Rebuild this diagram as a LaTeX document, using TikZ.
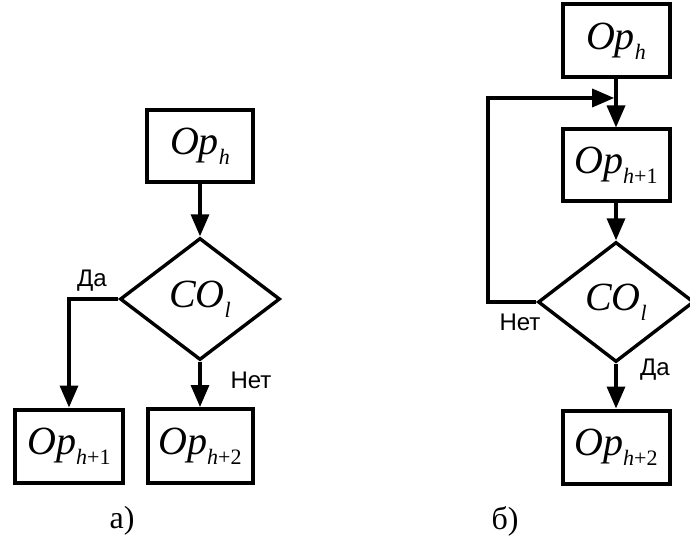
\documentclass[tikz,border=0pt]{standalone}
\usepackage{fontspec}
\setmainfont{Liberation Serif}
\newfontfamily\lsans{Liberation Sans}
\usetikzlibrary{arrows.meta,shapes.geometric}
\newcommand\opsub[1]{\raisebox{-10pt}{\fontsize{22}{22}\selectfont #1}}
\begin{document}
\begin{tikzpicture}[x=1pt,y=-1pt,
  opbox/.style={draw, line width=4pt, minimum width=106pt, minimum height=72pt,
    inner sep=0pt, font=\fontsize{40}{40}\selectfont\itshape},
  cond/.style={draw, diamond, line width=3.4pt, minimum width=160pt, minimum height=122pt,
    inner sep=0pt, aspect=1.3, font=\fontsize{40}{40}\selectfont\itshape},
  flow/.style={line width=3.4pt, -{Triangle[length=22pt,width=18pt]}},
  lbl/.style={font=\lsans\fontsize{24}{24}\selectfont, inner sep=0pt},
  figlabel/.style={font=\fontsize{32}{32}\selectfont, inner sep=0pt}]
\useasboundingbox (0,0) rectangle (690,548);
\clip (0,0) rectangle (690,548);
\fill[white] (0,0) rectangle (690,548);
% ---- a)
\node[opbox] (ah) at (200,146) {Op\opsub{h}};
\node[cond] (ac) at (200,299) {CO\opsub{l}};
\node[opbox, minimum width=108pt, minimum height=73pt] (a1) at (69,446) {Op\opsub{h{\upshape +1}}};
\node[opbox, minimum width=105pt, minimum height=74pt] (a2) at (200,446) {Op\opsub{h{\upshape +2}}};
\draw[flow] (ah.south) -- (ac.north);
\draw[flow] (ac.west) -| (a1.north);
\draw[flow] (ac.south) -- (a2.north);
\node[lbl] (ada) at (92,281) {Да};
\node[lbl] (anet) at (251,380) {Нет};
\node[figlabel] (alab) at (122,521) {а)};
% ---- b)
\node[opbox, minimum width=107pt, minimum height=73pt] (bh) at (616,41) {Op\opsub{h}};
\node[opbox, minimum width=107pt, minimum height=71pt] (b1) at (616,165) {Op\opsub{h{\upshape +1}}};
\node[cond, minimum width=156pt, minimum height=120pt] (bc) at (616,302) {CO\opsub{l}};
\node[opbox, minimum width=107pt, minimum height=73pt] (b2) at (616,447) {Op\opsub{h{\upshape +2}}};
\coordinate (bm) at (616,98);
\coordinate (bl) at (488,302);
\draw[flow] (bh.south) -- (b1.north);
\draw[flow] (b1.south) -- (bc.north);
\draw[flow] (bc.south) -- (b2.north);
\draw[flow, shorten >=1.8pt] (bc.west) -- (bl) |- (bm);
\node[lbl] (bnet) at (520,322) {Нет};
\node[lbl] (bda) at (655,370) {Да};
\node[figlabel] (blab) at (505,521) {б)};
\end{tikzpicture}
\end{document}
